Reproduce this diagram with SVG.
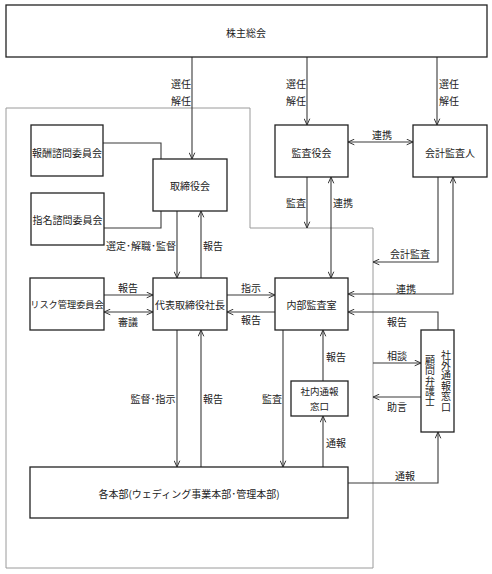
<svg xmlns="http://www.w3.org/2000/svg" width="492" height="574" viewBox="0 0 492 574">
<defs>
<marker id="ah" viewBox="0 0 10 10" refX="10" refY="5" markerWidth="7" markerHeight="7" markerUnits="userSpaceOnUse" orient="auto-start-reverse">
<path d="M1,1 L10,5 L1,9" fill="none" stroke="#333" stroke-width="1.4"/>
</marker>
</defs>
<style>
.box{fill:#fff;stroke:#222;stroke-width:1.3}
.t{font-family:"Noto Sans CJK JP","Noto Sans",sans-serif;font-size:10px;fill:#222;text-anchor:middle;dominant-baseline:central}
.c{fill:none;stroke:#3a3a3a;stroke-width:1.1}
.a{marker-end:url(#ah)}
.b{marker-start:url(#ah);marker-end:url(#ah)}
.v{writing-mode:vertical-rl;font-family:"Noto Sans CJK JP",sans-serif;font-size:10px;fill:#222;text-anchor:middle;letter-spacing:0.4px}
</style>
<rect width="492" height="574" fill="#fff"/>
<path d="M6,108 H250 V228 H373 V568 H6 Z" fill="none" stroke="#9a9a9a" stroke-width="1"/>

<g id="connectors">
<path class="c a" d="M192,57 V159"/>
<path class="c a" d="M307,57 V125"/>
<path class="c a" d="M437,57 V125"/>
<path class="c" d="M103,143 H161 V159"/>
<path class="c" d="M104,228 H161 V211"/>
<path class="c a" d="M177,211 V278"/>
<path class="c a" d="M201,278 V211"/>
<path class="c a" d="M104,295 H153"/>
<path class="c b" d="M104,312 H153"/>
<path class="c a" d="M227,295 H275"/>
<path class="c a" d="M275,312 H227"/>
<path class="c b" d="M348,142 H413"/>
<path class="c a" d="M307,177 V228"/>
<path class="c b" d="M331,278 V177"/>
<path class="c a" d="M438,177 V262 H373"/>
<path class="c b" d="M348,294 H453 V177"/>
<path class="c a" d="M438,330 V312 H348"/>
<path class="c a" d="M373,363 H421"/>
<path class="c a" d="M421,397 H373"/>
<path class="c a" d="M283,330 V467"/>
<path class="c a" d="M323,381 V330"/>
<path class="c a" d="M323,467 V416"/>
<path class="c a" d="M177,330 V467"/>
<path class="c a" d="M201,467 V330"/>
<path class="c a" d="M348,483 H438 V432"/>
<text class="t" x="181" y="83">選任</text>
<text class="t" x="181" y="100">解任</text>
<text class="t" x="296" y="83">選任</text>
<text class="t" x="296" y="100">解任</text>
<text class="t" x="449" y="83">選任</text>
<text class="t" x="449" y="100">解任</text>
<text class="t" x="141" y="245">選定･解職･監督</text>
<text class="t" x="213" y="245">報告</text>
<text class="t" x="382" y="134">連携</text>
<text class="t" x="296" y="202">監査</text>
<text class="t" x="343" y="202">連携</text>
<text class="t" x="410" y="253">会計監査</text>
<text class="t" x="128" y="287">報告</text>
<text class="t" x="128" y="321">審議</text>
<text class="t" x="251" y="287">指示</text>
<text class="t" x="251" y="319">報告</text>
<text class="t" x="406" y="288">連携</text>
<text class="t" x="397" y="321">報告</text>
<text class="t" x="397" y="355">相談</text>
<text class="t" x="397" y="406">助言</text>
<text class="t" x="336" y="356">報告</text>
<text class="t" x="272" y="398">監査</text>
<text class="t" x="153" y="398">監督･指示</text>
<text class="t" x="213" y="398">報告</text>
<text class="t" x="336" y="442">通報</text>
<text class="t" x="405" y="475">通報</text>
</g>

<g id="shareholders"><rect class="box" x="6" y="5" width="481" height="52"/><text class="t" x="246" y="32">株主総会</text></g>
<g id="compensation"><rect class="box" x="31" y="125" width="72" height="51"/><text class="t" x="67" y="152">報酬諮問委員会</text></g>
<g id="nomination"><rect class="box" x="31" y="193" width="73" height="52"/><text class="t" x="67.5" y="219">指名諮問委員会</text></g>
<g id="board"><rect class="box" x="153" y="159" width="74" height="52"/><text class="t" x="190" y="185">取締役会</text></g>
<g id="auditboard"><rect class="box" x="275" y="125" width="73" height="52"/><text class="t" x="311.5" y="152">監査役会</text></g>
<g id="accountant"><rect class="box" x="413" y="125" width="74" height="52"/><text class="t" x="450" y="152">会計監査人</text></g>
<g id="risk"><rect class="box" x="30" y="278" width="74" height="52"/><text class="t" x="67" y="304" style="font-size:9.2px">リスク管理委員会</text></g>
<g id="president"><rect class="box" x="153" y="278" width="74" height="52"/><text class="t" x="190" y="304">代表取締役社長</text></g>
<g id="internalaudit"><rect class="box" x="275" y="278" width="73" height="52"/><text class="t" x="311.5" y="304">内部監査室</text></g>
<g id="internalhotline"><rect class="box" x="291" y="381" width="57" height="35"/><text class="t" x="319.5" y="391" style="font-size:9.5px">社内通報</text><text class="t" x="319.5" y="406" style="font-size:9.5px">窓口</text></g>
<g id="externalhotline"><rect class="box" x="421" y="330" width="33" height="102"/><text class="v" x="446" y="381">社外通報窓口</text><text class="v" x="430" y="381">顧問弁護士</text></g>
<g id="divisions"><rect class="box" x="30" y="467" width="318" height="51"/><text class="t" x="189" y="493">各本部(ウェディング事業本部･管理本部)</text></g>
</svg>
